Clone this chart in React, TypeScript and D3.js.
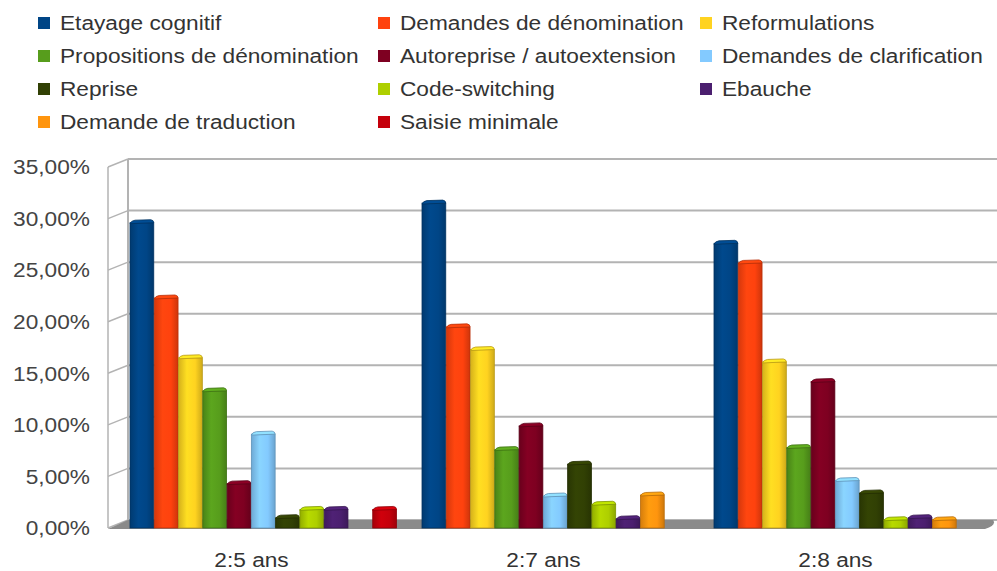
import React from "react";
import * as d3 from "d3";

const categories = ["2:5 ans", "2:7 ans", "2:8 ans"];

const seriesNames = [
  "Etayage cognitif",
  "Demandes de dénomination",
  "Reformulations",
  "Propositions de dénomination",
  "Autoreprise / autoextension",
  "Demandes de clarification",
  "Reprise",
  "Code-switching",
  "Ebauche",
  "Demande de traduction",
  "Saisie minimale",
];

const seriesColors = [
  "#004586",
  "#ff420e",
  "#ffd320",
  "#579d1c",
  "#7e0021",
  "#83caff",
  "#314004",
  "#aecf00",
  "#4b1f6f",
  "#ff950e",
  "#c5000b",
];

// one array per age, values in percent, same order as seriesNames
const values25 = [29.6, 22.3, 16.5, 13.3, 4.3, 9.1, 1.0, 1.8, 1.8, 0, 1.8];
const values27 = [31.5, 19.5, 17.3, 7.6, 9.9, 3.1, 6.2, 2.3, 0.9, 3.2, 0];
const values28 = [27.6, 25.7, 16.1, 7.8, 14.2, 4.6, 3.4, 0.8, 1.0, 0.8, 0];
const valuesByCategory = [values25, values27, values28];

const yTicks = [0, 5, 10, 15, 20, 25, 30, 35];

const W = 997;
const H = 571;
const FONT = "'Liberation Sans', Arial, sans-serif";
const STRETCH = 1.08; // the source text is a bit wider than Liberation Sans

// pseudo 3D offset of the back wall
const DX = 20;
const DY = -8;

const Label: React.FC<{
  x: number;
  y: number;
  anchor?: "start" | "middle" | "end";
  fill?: string;
  size?: number;
  children: React.ReactNode;
}> = ({ x, y, anchor = "start", fill = "#333", size = 21, children }) => (
  <g transform={`translate(${x},${y}) scale(${STRETCH},1)`}>
    <text
      x={0}
      y={0}
      dy="0.35em"
      textAnchor={anchor}
      fontFamily={FONT}
      fontSize={size}
      fill={fill}
    >
      {children}
    </text>
  </g>
);

const App: React.FC = () => {
  const y = d3.scaleLinear().domain([0, 35]).range([528, 167]);
  const x0 = d3
    .scaleBand<string>()
    .domain(categories)
    .range([130, 981])
    .paddingInner(0.0856)
    .paddingOuter(0);
  const x1 = d3
    .scaleBand<number>()
    .domain(d3.range(seriesNames.length))
    .range([0, x0.bandwidth()])
    .padding(0);

  const frontX = 108;
  const backX = frontX + DX;
  const fmt = (v: number) => v.toFixed(2).replace(".", ",") + "%";

  const bw = x1.bandwidth();

  return (
    <div style={{ position: "absolute", left: 0, top: 0 }}>
      <svg width={W} height={H} style={{ display: "block", background: "#fff" }}>
        <defs>
          {seriesColors.map((c, i) => {
            const base = d3.color(c)!;
            return (
              <linearGradient key={i} id={`bar${i}`} x1="0" x2="1" y1="0" y2="0">
                <stop offset="0" stopColor={base.darker(0.5).toString()} />
                <stop offset="0.35" stopColor={base.brighter(0.15).toString()} />
                <stop offset="0.7" stopColor={c} />
                <stop offset="1" stopColor={base.darker(0.6).toString()} />
              </linearGradient>
            );
          })}
        </defs>

        {/* legend */}
        {seriesNames.map((name, i) => {
          const col = i % 3;
          const row = Math.floor(i / 3);
          const lx = [38, 378, 700][col];
          const ly = 23 + row * 33;
          return (
            <g key={name}>
              <rect x={lx} y={ly - 6} width={12} height={12} fill={seriesColors[i]} />
              <Label x={lx + 22} y={ly} size={21}>
                {name}
              </Label>
            </g>
          );
        })}

        {/* back wall grid */}
        {yTicks.map((t) => (
          <line
            key={`g${t}`}
            x1={backX}
            x2={W}
            y1={y(t) + DY}
            y2={y(t) + DY}
            stroke="#b3b3b3"
            strokeWidth={2}
          />
        ))}
        {/* left side wall */}
        <line x1={backX} x2={backX} y1={y(35) + DY} y2={y(0) + DY} stroke="#b3b3b3" strokeWidth={2} />
        <line x1={frontX} x2={frontX} y1={y(35)} y2={y(0)} stroke="#b3b3b3" strokeWidth={1.5} />
        {yTicks.map((t) => (
          <line
            key={`d${t}`}
            x1={frontX}
            x2={backX}
            y1={y(t)}
            y2={y(t) + DY}
            stroke="#b3b3b3"
            strokeWidth={1.5}
          />
        ))}

        {/* floor */}
        <path
          d={`M${frontX},${y(0) + 1} L${backX},${y(0) + DY} L${W - 4},${y(0) + DY} Q${W},${y(0) - 3} ${W - 12},${y(0) + 1} Z`}
          fill="#8a8a8a"
        />

        {/* y tick labels */}
        {yTicks.map((t) => (
          <Label key={`t${t}`} x={90} y={y(t)} anchor="end" fill="#444">
            {fmt(t)}
          </Label>
        ))}

        {/* bars */}
        {categories.map((cat, ci) =>
          valuesByCategory[ci].map((v, si) => {
            if (v <= 0) return null;
            const bx = (x0(cat) ?? 0) + (x1(si) ?? 0);
            const top = y(v);
            const bottom = y(0);
            const dark = d3.color(seriesColors[si])!.darker(0.9).toString();
            const light = d3.color(seriesColors[si])!.brighter(0.3).toString();
            const w = bw - 0.5;
            return (
              <g key={`${ci}-${si}`}>
                <rect
                  x={bx}
                  y={top}
                  width={w}
                  height={bottom - top}
                  fill={`url(#bar${si})`}
                  stroke={dark}
                  strokeWidth={0.8}
                />
                <path
                  d={`M${bx},${top + 1} Q${bx + 1},${top - 2} ${bx + 5},${top - 2.5} L${bx + w - 3},${top - 3} Q${bx + w},${top - 2.5} ${bx + w},${top} Z`}
                  fill={light}
                  stroke={dark}
                  strokeWidth={0.8}
                />
              </g>
            );
          })
        )}

        {/* category labels */}
        {categories.map((cat) => (
          <Label
            key={cat}
            x={(x0(cat) ?? 0) + x0.bandwidth() / 2 - 12}
            y={560}
            anchor="middle"
          >
            {cat}
          </Label>
        ))}
      </svg>
    </div>
  );
};

export default App;
